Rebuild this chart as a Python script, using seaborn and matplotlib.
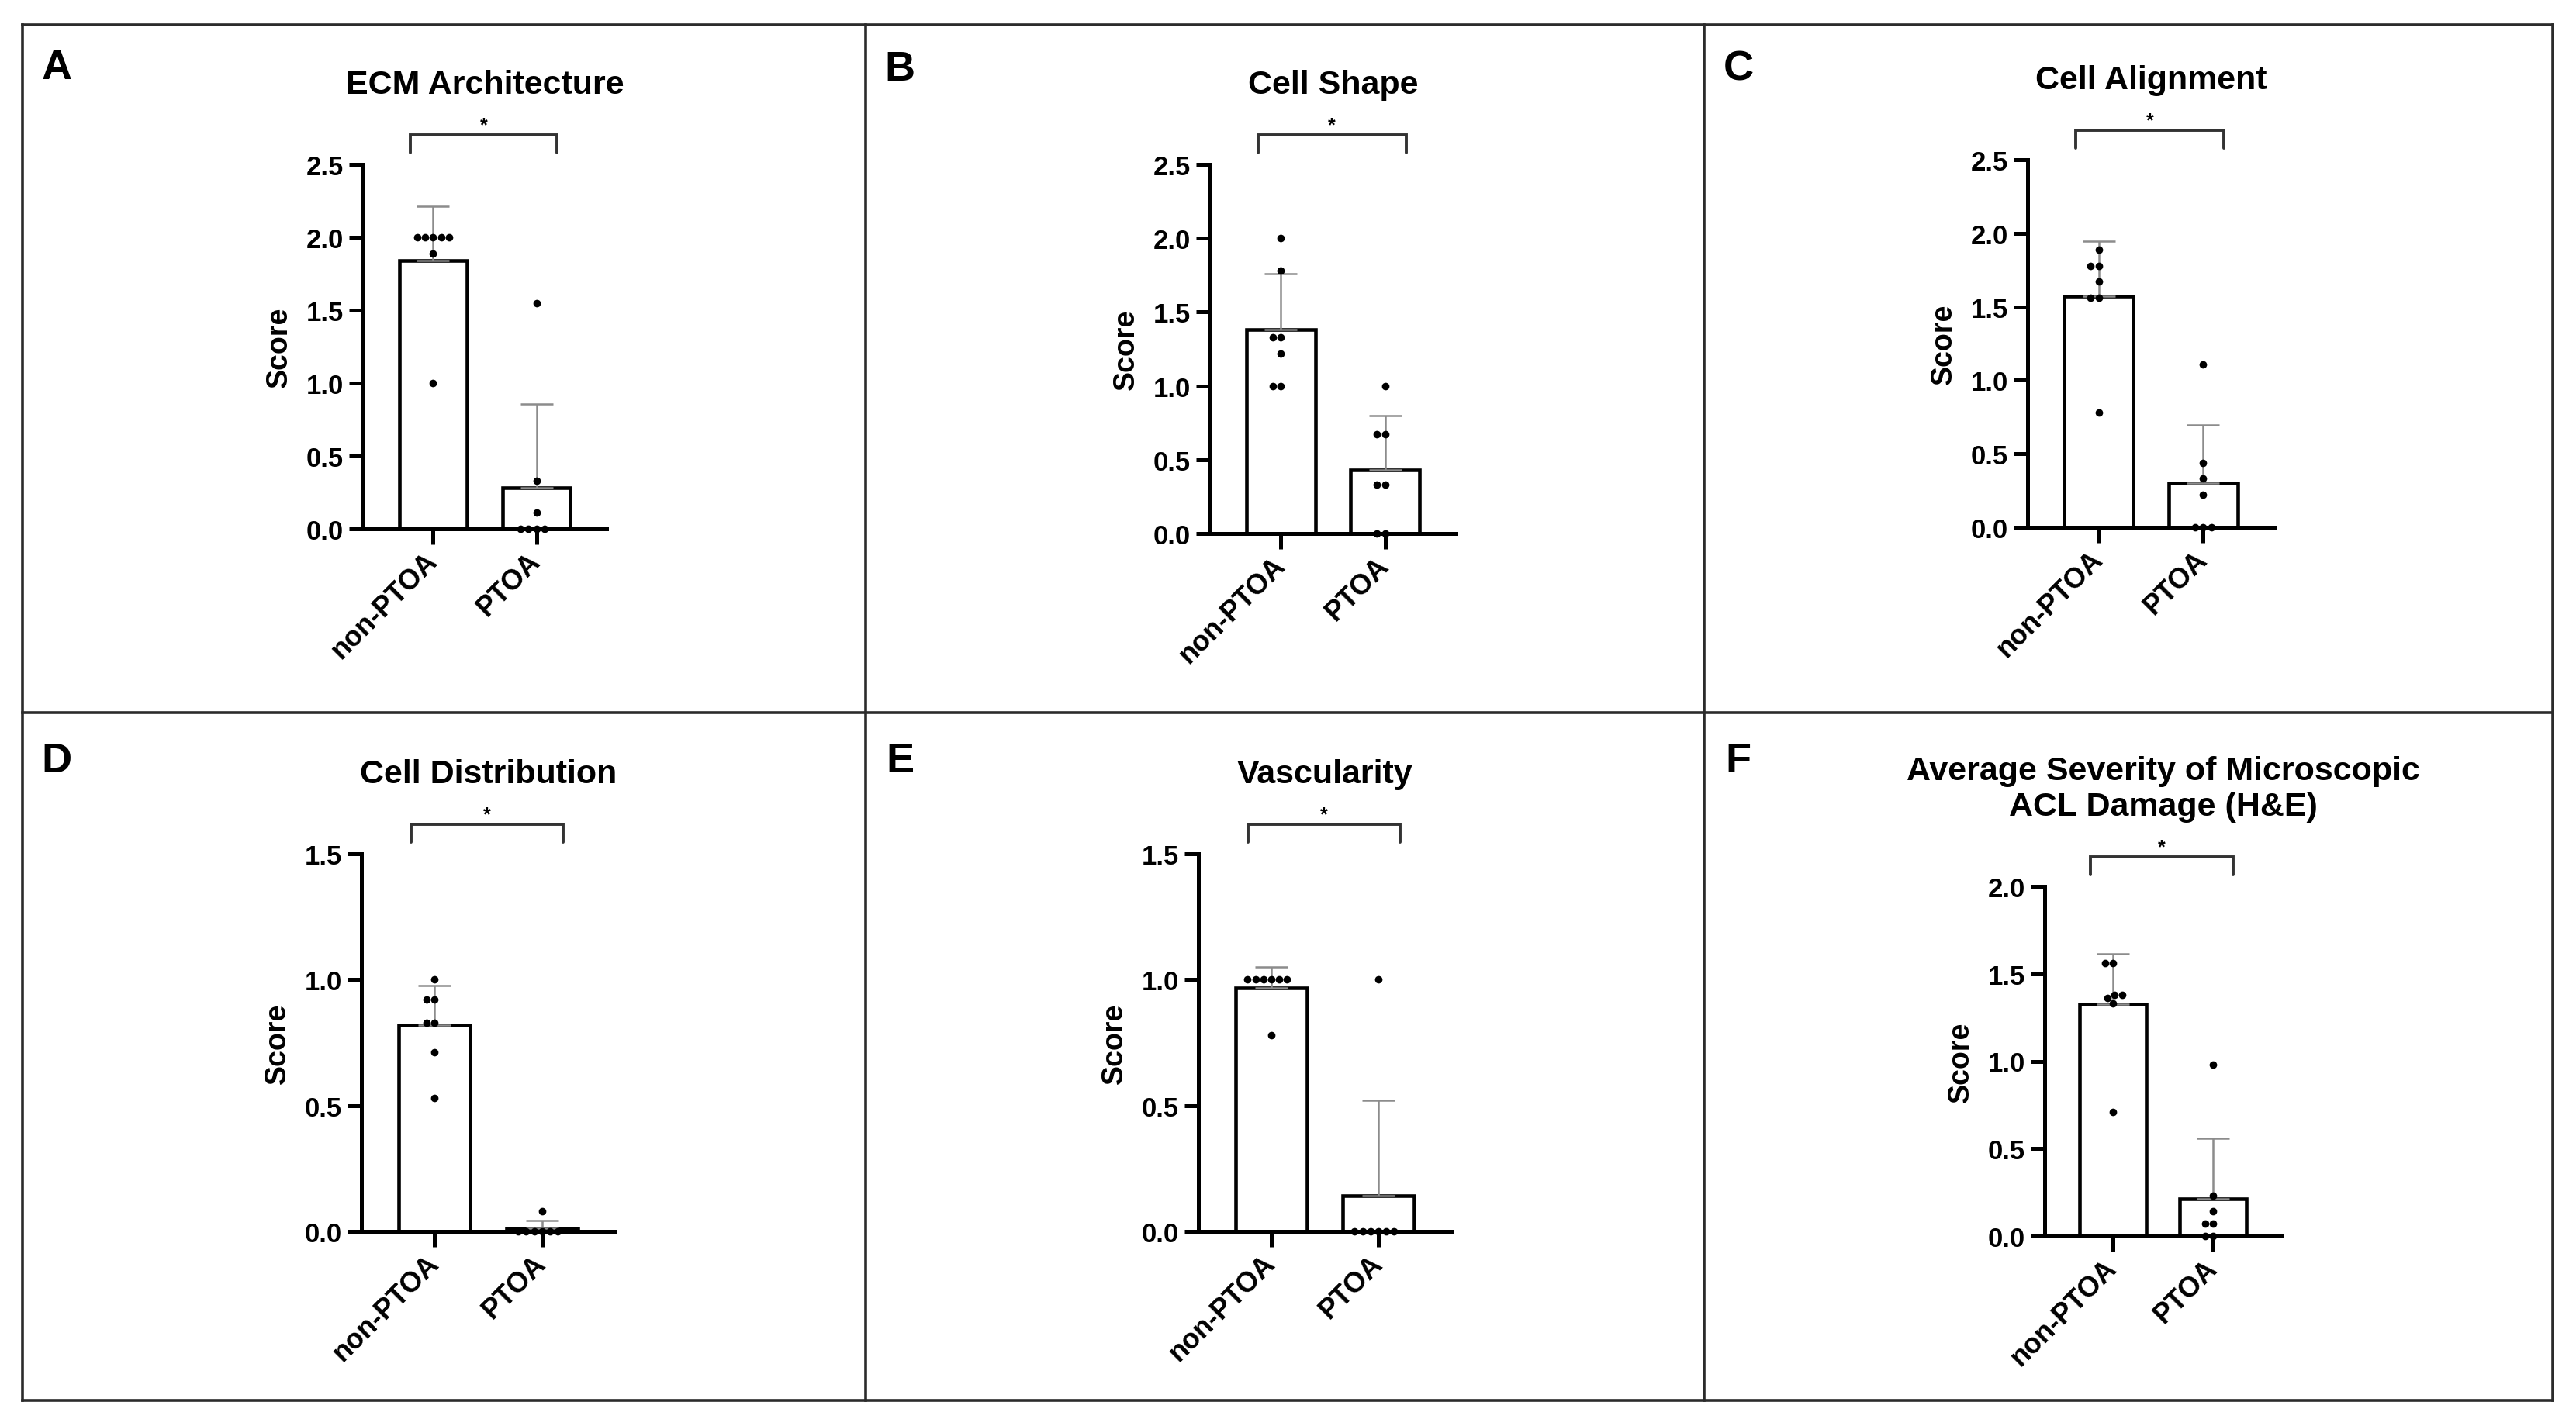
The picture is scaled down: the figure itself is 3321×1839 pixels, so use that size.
import matplotlib.pyplot as plt
import seaborn as sns
import pandas as pd
import numpy as np
from matplotlib.lines import Line2D
from matplotlib.ticker import FormatStrFormatter
from matplotlib.transforms import blended_transform_factory

# GraphPad-like look
sns.set_style("ticks", rc={'axes.edgecolor': 'black', 'xtick.color': 'black',
                           'ytick.color': 'black', 'text.color': 'black',
                           'axes.labelcolor': 'black'})
plt.rcParams['font.family'] = ['Liberation Sans', 'DejaVu Sans']
plt.rcParams['font.weight'] = 'bold'
plt.rcParams['axes.labelweight'] = 'bold'

W, H, DPI = 3321, 1840, 100

groups = ['non-PTOA', 'PTOA']

# individual scores (one dot per specimen)
ecm_non = [2.0, 2.0, 2.0, 2.0, 2.0, 1.89, 1.0]
ecm_ptoa = [1.55, 0.33, 0.11, 0.0, 0.0, 0.0, 0.0]
shape_non = [2.0, 1.78, 1.33, 1.33, 1.22, 1.0, 1.0]
shape_ptoa = [1.0, 0.67, 0.67, 0.33, 0.33, 0.0, 0.0]
align_non = [1.89, 1.78, 1.78, 1.67, 1.56, 1.56, 0.78]
align_ptoa = [1.11, 0.44, 0.33, 0.22, 0.0, 0.0, 0.0]
dist_non = [1.0, 0.92, 0.92, 0.83, 0.83, 0.71, 0.53]
dist_ptoa = [0.08, 0.0, 0.0, 0.0, 0.0, 0.0, 0.0]
vasc_non = [1.0, 1.0, 1.0, 1.0, 1.0, 1.0, 0.78]
vasc_ptoa = [1.0, 0.0, 0.0, 0.0, 0.0, 0.0, 0.0]
avg_non = [1.56, 1.56, 1.38, 1.38, 1.36, 1.33, 0.71]
avg_ptoa = [0.98, 0.23, 0.14, 0.07, 0.07, 0.0, 0.0]

titles = ['ECM Architecture', 'Cell Shape', 'Cell Alignment',
          'Cell Distribution', 'Vascularity',
          'Average Severity of Microscopic\nACL Damage (H&E)']
letters = ['A', 'B', 'C', 'D', 'E', 'F']
y_max = [2.5, 2.5, 2.5, 1.5, 1.5, 2.0]
scores = [(ecm_non, ecm_ptoa), (shape_non, shape_ptoa), (align_non, align_ptoa),
          (dist_non, dist_ptoa), (vasc_non, vasc_ptoa), (avg_non, avg_ptoa)]

# layout in pixels: axes box (left, top, right, bottom) and panel letter centres
boxes = [(468, 213, 782, 683), (1560, 213, 1877, 689), (2614, 207, 2932, 681),
         (466, 1102, 793, 1589), (1545, 1102, 1871, 1589), (2636, 1144, 2941, 1595)]
letter_pos = [(73, 88), (1160, 90), (2241, 90), (73, 982), (1160, 982), (2241, 982)]


def draw_panel(ax, non, ptoa, ymax, title, w_px, h_px):
    df = pd.DataFrame({'group': [groups[0]] * len(non) + [groups[1]] * len(ptoa),
                       'score': non + ptoa})

    sns.barplot(data=df, x='group', y='score', order=groups, errorbar=None,
                width=0.66, color='white', saturation=1, edgecolor='black',
                linewidth=3.3, ax=ax)

    # mean + SD, upper half only
    stats = df.groupby('group')['score'].agg(['mean', 'std']).loc[groups]
    ax.errorbar([0, 1], stats['mean'], yerr=[np.zeros(2), stats['std']], fmt='none',
                ecolor='#8c8c8c', elinewidth=1.8, capsize=15, capthick=1.8, zorder=3)

    sns.swarmplot(data=df, x='group', y='score', order=groups, color='black',
                  size=7, ax=ax, zorder=4, clip_on=False)

    ax.set_xlim(-0.68, 1.68)
    ax.set_ylim(0, ymax)
    ax.set_yticks(np.arange(0, ymax + 0.01, 0.5))
    ax.yaxis.set_major_formatter(FormatStrFormatter('%.1f'))
    sns.despine(ax=ax)
    for side in ['left', 'bottom']:
        ax.spines[side].set_linewidth(3.6)
    ax.tick_params(axis='y', length=13, width=3.6, labelsize=25, pad=5)
    ax.tick_params(axis='x', length=14.5, width=3.6, labelsize=26, pad=11)
    for lbl in ax.get_xticklabels():
        lbl.set_rotation(45)
        lbl.set_ha('right')
        lbl.set_va('center')
        lbl.set_rotation_mode('anchor')
        lbl.set_fontweight('bold')
    for lbl in ax.get_yticklabels():
        lbl.set_fontweight('bold')

    ax.set_xlabel('')
    ax.set_ylabel('Score', fontsize=27, fontweight='bold')
    ax.yaxis.set_label_coords(-90 / w_px, 0.5)

    # significance bracket, star and title above the axes
    trans = blended_transform_factory(ax.transData, ax.transAxes)
    top = 1 + 38 / h_px
    foot = 1 + 15 / h_px
    ax.plot([-0.22, -0.22, 1.2, 1.2], [foot, top, top, foot], transform=trans,
            color='#333333', lw=2.8, clip_on=False, solid_joinstyle='miter')
    ax.text(0.49, 1 + 44 / h_px, '*', transform=trans, ha='center', va='baseline',
            fontsize=18)
    ax.text(0.5, 1 + 83 / h_px, title, transform=trans, ha='center', va='bottom',
            fontsize=31, fontweight='bold')


fig = plt.figure(figsize=(W / DPI, H / DPI), dpi=DPI)
fig.patch.set_facecolor('white')

for i, (non, ptoa) in enumerate(scores):
    l, t, r, b = boxes[i]
    ax = fig.add_axes([l / W, 1 - b / H, (r - l) / W, (b - t) / H])
    ax.set_facecolor('none')
    draw_panel(ax, non, ptoa, y_max[i], titles[i], r - l, b - t)
    lx, ly = letter_pos[i]
    fig.text(lx / W, 1 - ly / H, letters[i], ha='center', va='center',
             fontsize=39, fontweight='bold')


# panel frame
def px_line(x0, y0, x1, y1, lw=2.6):
    fig.add_artist(Line2D([x0 / W, x1 / W], [1 - y0 / H, 1 - y1 / H],
                          color='#2b2b2b', lw=lw, solid_capstyle='projecting'))


px_line(29, 33, 3291, 33)
px_line(29, 1807, 3291, 1807)
px_line(29, 33, 29, 1807)
px_line(3291, 33, 3291, 1807)
px_line(1116, 33, 1116, 1807)
px_line(2197, 33, 2197, 1807)
px_line(29, 920, 3291, 920)

fig.savefig('out.png', dpi=DPI, facecolor='white')
